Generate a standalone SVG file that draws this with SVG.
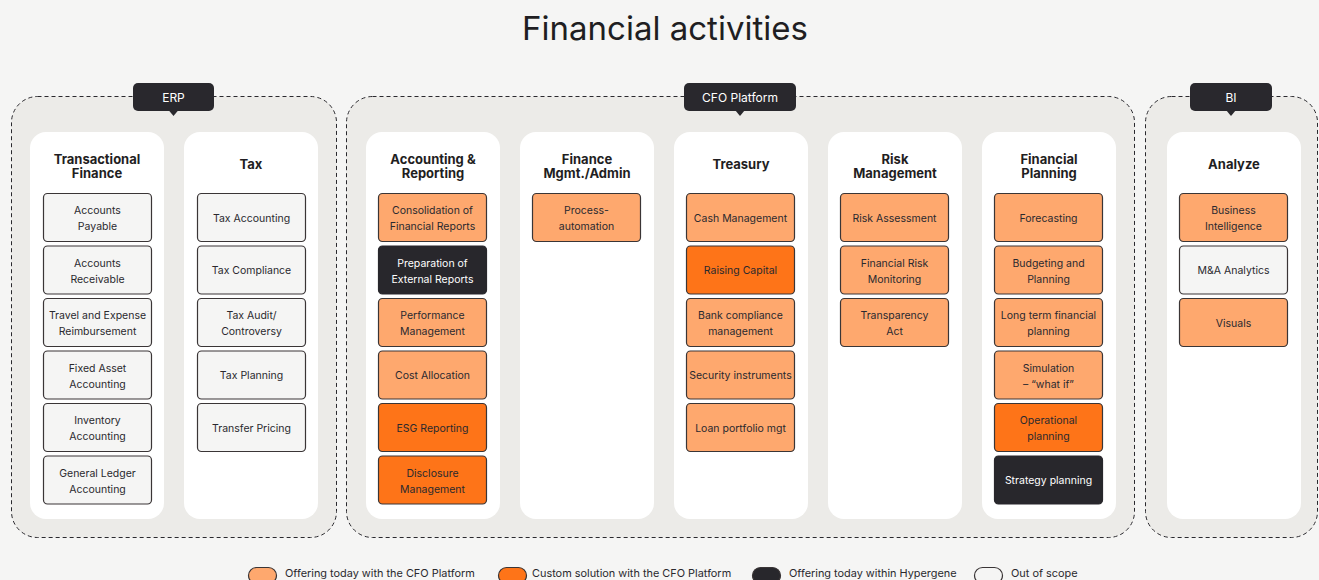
<svg xmlns="http://www.w3.org/2000/svg" width="1319" height="580" viewBox="0 0 1319 580">
  <style>
    .bg { fill: #f5f5f4; }
    .group { fill: #ecebe8; stroke: #2a292e; stroke-width: 1; stroke-dasharray: 4 3; }
    .tag { fill: #29282d; }
    .tagtext { fill: #ffffff; font-family: Inter, "DejaVu Sans", sans-serif; font-size: 12px; text-anchor: middle; }
    .card { fill: #ffffff; }
    .head { fill: #1f1e22; font-family: Inter, "DejaVu Sans", sans-serif; font-size: 13px; font-weight: 700; text-anchor: middle; }
    .item rect { stroke: #3a3536; stroke-width: 1.2; }
    .item text { font-family: Inter, "DejaVu Sans", sans-serif; font-size: 10.5px; text-anchor: middle; fill: #2a292e; }
    .out rect { fill: #f5f5f4; }
    .std rect { fill: #fea86e; }
    .cus rect { fill: #fe7418; }
    .hyp rect { fill: #28272c; stroke: #28272c; }
    .hyp text { fill: #ffffff; }
    .title { fill: #1f1e22; font-family: Inter, "DejaVu Sans", sans-serif; font-size: 33px; text-anchor: middle; }
    .legend text { font-family: Inter, "DejaVu Sans", sans-serif; font-size: 10.9px; fill: #2a292e; }
    .legend rect { stroke: #3a3536; stroke-width: 1.2; }
  </style>

  <rect class="bg" x="0" y="0" width="1319" height="580"/>

  <text class="title" x="665" y="40">Financial activities</text>

  <!-- platform groups -->
  <g id="group-erp">
    <rect class="group" x="11.5" y="96.5" width="325" height="441" rx="26"/>
    <rect class="tag" x="133" y="83" width="81" height="28" rx="5"/>
    <path class="tag" d="M168.5 110 L173.5 116 L178.5 110 Z"/>
    <text class="tagtext" x="173.5" y="101.5">ERP</text>
  </g>
  <g id="group-cfo">
    <rect class="group" x="346.5" y="96.5" width="788" height="441" rx="26"/>
    <rect class="tag" x="684" y="83" width="112" height="28" rx="5"/>
    <path class="tag" d="M735 110 L740 116 L745 110 Z"/>
    <text class="tagtext" x="740" y="101.5">CFO Platform</text>
  </g>
  <g id="group-bi">
    <rect class="group" x="1145.5" y="96.5" width="172" height="441" rx="26"/>
    <rect class="tag" x="1190" y="83" width="82" height="28" rx="5"/>
    <path class="tag" d="M1226 110 L1231 116 L1236 110 Z"/>
    <text class="tagtext" x="1231" y="101.5">BI</text>
  </g>

  <!-- Transactional Finance -->
  <g id="col-transactional">
    <rect class="card" x="30" y="132" width="134" height="387" rx="16"/>
    <text class="head" x="97" y="163.5">Transactional</text>
    <text class="head" x="97" y="177.5">Finance</text>
    <g class="item out"><rect x="43.5" y="193.5" width="108" height="48" rx="4"/><text x="97.5" y="214">Accounts</text><text x="97.5" y="230">Payable</text></g>
    <g class="item out"><rect x="43.5" y="246" width="108" height="48" rx="4"/><text x="97.5" y="266.5">Accounts</text><text x="97.5" y="282.5">Receivable</text></g>
    <g class="item out"><rect x="43.5" y="298.5" width="108" height="48" rx="4"/><text x="97.5" y="319">Travel and Expense</text><text x="97.5" y="335">Reimbursement</text></g>
    <g class="item out"><rect x="43.5" y="351" width="108" height="48" rx="4"/><text x="97.5" y="371.5">Fixed Asset</text><text x="97.5" y="387.5">Accounting</text></g>
    <g class="item out"><rect x="43.5" y="403.5" width="108" height="48" rx="4"/><text x="97.5" y="424">Inventory</text><text x="97.5" y="440">Accounting</text></g>
    <g class="item out"><rect x="43.5" y="456" width="108" height="48" rx="4"/><text x="97.5" y="476.5">General Ledger</text><text x="97.5" y="492.5">Accounting</text></g>
  </g>

  <!-- Tax -->
  <g id="col-tax">
    <rect class="card" x="184" y="132" width="134" height="387" rx="16"/>
    <text class="head" x="251" y="168.5">Tax</text>
    <g class="item out"><rect x="197.5" y="193.5" width="108" height="48" rx="4"/><text x="251.5" y="221.5">Tax Accounting</text></g>
    <g class="item out"><rect x="197.5" y="246" width="108" height="48" rx="4"/><text x="251.5" y="274">Tax Compliance</text></g>
    <g class="item out"><rect x="197.5" y="298.5" width="108" height="48" rx="4"/><text x="251.5" y="319">Tax Audit/</text><text x="251.5" y="335">Controversy</text></g>
    <g class="item out"><rect x="197.5" y="351" width="108" height="48" rx="4"/><text x="251.5" y="379">Tax Planning</text></g>
    <g class="item out"><rect x="197.5" y="403.5" width="108" height="48" rx="4"/><text x="251.5" y="431.5">Transfer Pricing</text></g>
  </g>

  <!-- Accounting & Reporting -->
  <g id="col-accounting">
    <rect class="card" x="366" y="132" width="134" height="387" rx="16"/>
    <text class="head" x="433" y="163.5">Accounting &amp;</text>
    <text class="head" x="433" y="177.5">Reporting</text>
    <g class="item std"><rect x="378.5" y="193.5" width="108" height="48" rx="4"/><text x="432.5" y="214">Consolidation of</text><text x="432.5" y="230">Financial Reports</text></g>
    <g class="item hyp"><rect x="378.5" y="246" width="108" height="48" rx="4"/><text x="432.5" y="266.5">Preparation of</text><text x="432.5" y="282.5">External Reports</text></g>
    <g class="item std"><rect x="378.5" y="298.5" width="108" height="48" rx="4"/><text x="432.5" y="319">Performance</text><text x="432.5" y="335">Management</text></g>
    <g class="item std"><rect x="378.5" y="351" width="108" height="48" rx="4"/><text x="432.5" y="379">Cost Allocation</text></g>
    <g class="item cus"><rect x="378.5" y="403.5" width="108" height="48" rx="4"/><text x="432.5" y="431.5">ESG Reporting</text></g>
    <g class="item cus"><rect x="378.5" y="456" width="108" height="48" rx="4"/><text x="432.5" y="476.5">Disclosure</text><text x="432.5" y="492.5">Management</text></g>
  </g>

  <!-- Finance Mgmt./Admin -->
  <g id="col-finance-admin">
    <rect class="card" x="520" y="132" width="134" height="387" rx="16"/>
    <text class="head" x="587" y="163.5">Finance</text>
    <text class="head" x="587" y="177.5">Mgmt./Admin</text>
    <g class="item std"><rect x="532.5" y="193.5" width="108" height="48" rx="4"/><text x="586.5" y="214">Process-</text><text x="586.5" y="230">automation</text></g>
  </g>

  <!-- Treasury -->
  <g id="col-treasury">
    <rect class="card" x="674" y="132" width="134" height="387" rx="16"/>
    <text class="head" x="741" y="168.5">Treasury</text>
    <g class="item std"><rect x="686.5" y="193.5" width="108" height="48" rx="4"/><text x="740.5" y="221.5">Cash Management</text></g>
    <g class="item cus"><rect x="686.5" y="246" width="108" height="48" rx="4"/><text x="740.5" y="274">Raising Capital</text></g>
    <g class="item std"><rect x="686.5" y="298.5" width="108" height="48" rx="4"/><text x="740.5" y="319">Bank compliance</text><text x="740.5" y="335">management</text></g>
    <g class="item std"><rect x="686.5" y="351" width="108" height="48" rx="4"/><text x="740.5" y="379">Security instruments</text></g>
    <g class="item std"><rect x="686.5" y="403.5" width="108" height="48" rx="4"/><text x="740.5" y="431.5">Loan portfolio mgt</text></g>
  </g>

  <!-- Risk Management -->
  <g id="col-risk">
    <rect class="card" x="828" y="132" width="134" height="387" rx="16"/>
    <text class="head" x="895" y="163.5">Risk</text>
    <text class="head" x="895" y="177.5">Management</text>
    <g class="item std"><rect x="840.5" y="193.5" width="108" height="48" rx="4"/><text x="894.5" y="221.5">Risk Assessment</text></g>
    <g class="item std"><rect x="840.5" y="246" width="108" height="48" rx="4"/><text x="894.5" y="266.5">Financial Risk</text><text x="894.5" y="282.5">Monitoring</text></g>
    <g class="item std"><rect x="840.5" y="298.5" width="108" height="48" rx="4"/><text x="894.5" y="319">Transparency</text><text x="894.5" y="335">Act</text></g>
  </g>

  <!-- Financial Planning -->
  <g id="col-planning">
    <rect class="card" x="982" y="132" width="134" height="387" rx="16"/>
    <text class="head" x="1049" y="163.5">Financial</text>
    <text class="head" x="1049" y="177.5">Planning</text>
    <g class="item std"><rect x="994.5" y="193.5" width="108" height="48" rx="4"/><text x="1048.5" y="221.5">Forecasting</text></g>
    <g class="item std"><rect x="994.5" y="246" width="108" height="48" rx="4"/><text x="1048.5" y="266.5">Budgeting and</text><text x="1048.5" y="282.5">Planning</text></g>
    <g class="item std"><rect x="994.5" y="298.5" width="108" height="48" rx="4"/><text x="1048.5" y="319">Long term financial</text><text x="1048.5" y="335">planning</text></g>
    <g class="item std"><rect x="994.5" y="351" width="108" height="48" rx="4"/><text x="1048.5" y="371.5">Simulation</text><text x="1048.5" y="387.5">– “what if”</text></g>
    <g class="item cus"><rect x="994.5" y="403.5" width="108" height="48" rx="4"/><text x="1048.5" y="424">Operational</text><text x="1048.5" y="440">planning</text></g>
    <g class="item hyp"><rect x="994.5" y="456" width="108" height="48" rx="4"/><text x="1048.5" y="484">Strategy planning</text></g>
  </g>

  <!-- Analyze -->
  <g id="col-analyze">
    <rect class="card" x="1167" y="132" width="134" height="387" rx="16"/>
    <text class="head" x="1234" y="168.5">Analyze</text>
    <g class="item std"><rect x="1179.5" y="193.5" width="108" height="48" rx="4"/><text x="1233.5" y="214">Business</text><text x="1233.5" y="230">Intelligence</text></g>
    <g class="item out"><rect x="1179.5" y="246" width="108" height="48" rx="4"/><text x="1233.5" y="274">M&amp;A Analytics</text></g>
    <g class="item std"><rect x="1179.5" y="298.5" width="108" height="48" rx="4"/><text x="1233.5" y="326.5">Visuals</text></g>
  </g>

  <!-- legend -->
  <g id="legend" class="legend">
    <rect x="248.5" y="567.5" width="28" height="16" rx="8" fill="#fea86e"/>
    <text x="285" y="577">Offering today with the CFO Platform</text>
    <rect x="498.5" y="567.5" width="28" height="16" rx="8" fill="#fe7418"/>
    <text x="532" y="577">Custom solution with the CFO Platform</text>
    <rect x="752.5" y="567.5" width="28" height="16" rx="8" fill="#28272c"/>
    <text x="789" y="577">Offering today within Hypergene</text>
    <rect x="974.5" y="567.5" width="28" height="16" rx="8" fill="#f5f5f4"/>
    <text x="1011" y="577">Out of scope</text>
  </g>
</svg>
